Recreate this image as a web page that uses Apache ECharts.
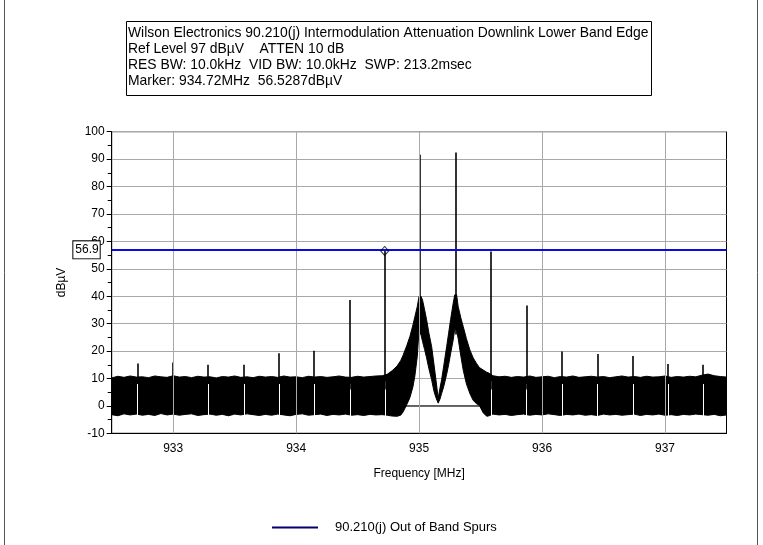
<!DOCTYPE html>
<html>
<head>
<meta charset="utf-8">
<script src="https://cdn.jsdelivr.net/npm/echarts@6/dist/echarts.min.js"></script>
<style>html,body{margin:0;padding:0;background:#fff}#c{width:763px;height:545px}</style>
</head>
<body>
<div id="c"></div>
<script>
// ---- data ----
var titleLines = [
  'Wilson Electronics 90.210(j) Intermodulation Attenuation Downlink Lower Band Edge',
  'Ref Level 97 dB\u00b5V    ATTEN 10 dB',
  'RES BW: 10.0kHz  VID BW: 10.0kHz  SWP: 213.2msec',
  'Marker: 934.72MHz  56.5287dB\u00b5V'
];
var seriesName = '90.210(j) Out of Band Spurs';
var xTicks = [933, 934, 935, 936, 937];

// spectrum envelope (trace is drawn as a dense band between these limits)
var bandFreq = [932.50,932.55,932.60,932.65,932.70,932.75,932.80,932.85,932.90,932.95,
  933.00,933.05,933.10,933.15,933.20,933.25,933.30,933.35,933.40,933.45,
  933.50,933.55,933.60,933.65,933.70,933.75,933.80,933.85,933.90,933.95,
  934.00,934.05,934.10,934.15,934.20,934.25,934.30,934.35,934.40,934.45,
  934.50,934.55,934.60,934.65,934.70,934.74,934.78,934.82,934.85,934.87,
  934.90,934.925,934.95,934.966,934.985,935.00,935.015,935.028,935.045,935.061,
  935.08,935.102,935.12,935.137,935.155,935.17,935.183,935.20,935.224,935.24,
  935.256,935.277,935.29,935.305,935.318,935.34,935.359,935.385,935.413,935.44,
  935.467,935.49,935.521,935.55,935.57,935.60,935.65,935.70,935.75,935.80,
  935.85,935.90,935.95,936.00,936.05,936.10,936.15,936.20,936.25,936.30,
  936.35,936.40,936.45,936.50,936.55,936.60,936.65,936.70,936.75,936.80,
  936.85,936.90,936.95,937.00,937.05,937.10,937.15,937.20,937.25,937.30,
  937.35,937.40,937.45,937.50];
var bandTop = [10.2,10.8,10.4,10.9,10.5,10.6,10.3,10.9,10.6,10.4,
  11.0,10.5,10.7,10.3,10.8,10.5,10.6,10.2,10.7,10.5,
  10.9,10.4,10.6,10.3,10.8,10.5,10.7,10.4,10.9,10.5,
  10.6,10.3,10.8,10.5,10.7,10.4,10.6,10.9,10.5,10.4,
  10.8,10.5,10.7,10.9,11.0,11.5,12.8,14.5,16.5,18.5,
  22.0,25.3,29.5,32.6,36.2,40.0,40.0,38.6,35.0,31.4,
  26.5,21.6,15.5,9.5,2.8,6.5,9.5,14.5,21.6,26.5,
  31.4,37.4,40.5,40.5,36.2,32.0,28.9,24.5,20.4,17.5,
  15.5,14.0,13.1,12.3,11.9,11.0,10.6,10.8,10.4,10.7,
  10.5,10.9,10.4,10.6,10.8,10.3,10.7,10.5,10.9,10.4,
  10.6,10.8,10.5,10.7,10.3,10.6,10.9,10.5,10.7,10.4,
  10.8,10.5,10.6,10.9,10.4,10.7,10.5,10.8,10.6,11.2,
  11.6,11.0,10.7,10.5];
var bandBottom = [-3.2,-3.6,-2.9,-3.3,-3.0,-3.4,-3.1,-3.5,-2.8,-3.3,
  -3.0,-3.4,-3.1,-2.9,-3.5,-3.2,-3.0,-3.4,-3.1,-3.6,
  -3.0,-3.3,-2.9,-3.2,-3.5,-3.1,-3.4,-3.0,-3.3,-3.6,
  -3.1,-2.9,-3.4,-3.2,-3.0,-3.5,-3.1,-3.3,-3.0,-3.4,
  -3.2,-3.5,-3.1,-3.3,-3.2,-3.4,-3.7,-3.8,-3.4,-2.2,
  0.5,3.0,7.0,11.0,18.0,28.0,26.0,23.5,20.5,17.5,
  13.5,9.5,5.5,3.0,1.0,2.5,4.5,7.0,11.5,15.0,
  19.0,24.0,28.0,27.5,24.5,18.0,13.0,8.0,4.5,2.0,
  0.8,0.2,-2.5,-3.8,-3.6,-3.0,-3.3,-3.1,-3.5,-3.2,
  -3.0,-3.4,-3.1,-3.3,-2.9,-3.2,-3.5,-3.1,-3.3,-3.0,
  -3.4,-3.2,-3.5,-3.0,-3.3,-3.1,-3.4,-3.2,-3.0,-3.5,
  -3.1,-3.3,-3.0,-3.4,-3.2,-3.5,-3.1,-3.3,-3.0,-3.2,
  -3.4,-3.1,-3.6,-3.3];

// discrete spurs / carriers
var spurFreq  = [932.71,933.00,933.285,933.575,933.86,934.147,934.437,934.722,935.006,935.297,935.586,935.874,936.163,936.451,936.741,937.025,937.31];
var spurPeak  = [15.5,15.8,15.0,15.0,19.2,20.1,38.6,56.5,91.6,92.4,56.3,36.6,19.8,18.9,18.2,15.3,15.0];
var spurFloor = [8,8,8,8,8,8,6,6,26,26,6,6,8,8,8,8,8];
var spurGap   = [8,8,8,8,8,8,8,9,null,null,9,8,8,8,8,8,8];

var baselineFreq = [934.87, 935.52];
var baselineLevel = [0, 0];

var refLevel = 56.9;
var markerFreq = 934.72;
var markerLevel = 56.5287;

// ---- chart ----
var FONT = 'Liberation Sans';
var bandData = bandFreq.map(function (f, i) { return [f, bandTop[i], bandBottom[i]]; });
var spikeLines = spurFreq.map(function (f, i) { return { coords: [[f, spurFloor[i]], [f, spurPeak[i]]] }; });
var gapLines = [];
spurFreq.forEach(function (f, i) {
  if (spurGap[i] !== null) gapLines.push({ coords: [[f, -4.2], [f, spurGap[i]]] });
});

// whole band as one polygon: upper edge forward, lower edge backward
function renderBand(params, api) {
  if (params.dataIndexInside !== 0) return null;
  var n = params.dataInsideLength;
  var pts = [];
  for (var i = 0; i < n; i++) pts.push(api.coord([api.value(0, i), api.value(1, i)]));
  for (var j = n - 1; j >= 0; j--) pts.push(api.coord([api.value(0, j), api.value(2, j)]));
  return {
    type: 'polygon',
    shape: { points: pts },
    style: { fill: '#000', stroke: '#000', lineWidth: 1 }
  };
}

var chart = echarts.init(document.getElementById('c'), null, { renderer: 'canvas' });
chart.setOption({
  animation: false,
  backgroundColor: '#fff',
  title: {
    text: titleLines.join('\n'),
    left: 126, top: 21,
    borderColor: '#000', borderWidth: 1,
    padding: [4, 3, 7, 2],
    textStyle: { fontFamily: FONT, fontSize: 13.9, fontWeight: 'normal', color: '#000', lineHeight: 16 }
  },
  legend: {
    left: 272, top: 521, padding: 0,
    data: [{ name: seriesName, icon: 'rect', itemStyle: { color: '#000070' } }],
    itemWidth: 46, itemHeight: 2,
    textStyle: { fontFamily: FONT, fontSize: 13, color: '#000', padding: [0, 0, 0, 12] }
  },
  grid: { left: 111.7, right: 36.5, top: 131.7, bottom: 111.7, show: true, borderColor: '#000', borderWidth: 1, containLabel: false },
  xAxis: {
    type: 'value', min: 932.5, max: 937.5, interval: 0.5,
    name: 'Frequency [MHz]', nameLocation: 'middle', nameGap: 34,
    nameTextStyle: { fontFamily: FONT, fontSize: 12, color: '#000' },
    axisLine: { onZero: false, lineStyle: { color: '#000' } },
    axisTick: { show: false },
    axisLabel: {
      fontFamily: FONT, fontSize: 12, color: '#000', margin: 9,
      showMinLabel: false, showMaxLabel: false,
      formatter: function (v) { return xTicks.indexOf(Math.round(v * 100) / 100) >= 0 ? String(Math.round(v)) : ''; }
    },
    splitLine: { show: false }
  },
  yAxis: {
    type: 'value', min: -10, max: 100, interval: 10,
    name: 'dB\u00b5V', nameLocation: 'middle', nameGap: 44,
    nameTextStyle: { fontFamily: FONT, fontSize: 12, color: '#000' },
    axisLine: { show: true, onZero: false, lineStyle: { color: '#000' } },
    axisTick: { show: true, length: 5, lineStyle: { color: '#000' } },
    minorTick: { show: true, splitNumber: 2, length: 4, lineStyle: { color: '#000' } },
    axisLabel: { fontFamily: FONT, fontSize: 12, color: '#000', margin: 7 },
    splitLine: { show: true, lineStyle: { color: '#a8a8a8', width: 1 } }
  },
  series: [
    {
      name: 'baseline', type: 'line', data: baselineFreq.map(function (f, i) { return [f, baselineLevel[i]]; }),
      symbol: 'none', lineStyle: { color: '#000', width: 1 }, z: 1, silent: true,
      markLine: {
        symbol: 'none', silent: true, label: { show: false },
        lineStyle: { color: '#a8a8a8', width: 1, type: 'solid' },
        data: xTicks.map(function (v) { return { xAxis: v }; })
      }
    },
    {
      name: seriesName, type: 'custom', renderItem: renderBand, data: bandData,
      encode: { x: 0, y: [1, 2] }, clip: true, z: 2, silent: true,
      itemStyle: { color: '#000' }
    },
    {
      name: 'gaps', type: 'lines', coordinateSystem: 'cartesian2d', data: gapLines,
      lineStyle: { color: '#fff', width: 1, opacity: 1 }, z: 3, silent: true
    },
    {
      name: 'spurs', type: 'lines', coordinateSystem: 'cartesian2d', data: spikeLines,
      lineStyle: { color: '#000', width: 1.6, opacity: 1 }, z: 4, silent: true
    },
    {
      name: 'ref', type: 'line', data: [], z: 5, silent: true,
      markLine: {
        symbol: 'none', silent: true,
        lineStyle: { color: '#0a0ae6', width: 2, type: 'solid' },
        label: {
          show: true, position: 'start', distance: 12, formatter: String(refLevel),
          fontFamily: FONT, fontSize: 12, color: '#000',
          backgroundColor: '#fff', borderColor: '#000', borderWidth: 1, padding: [3, 1, 2, 2]
        },
        data: [{ yAxis: refLevel }]
      }
    },
    {
      name: 'marker', type: 'scatter', data: [[markerFreq, markerLevel]],
      symbol: 'diamond', symbolSize: [8, 9], z: 6, silent: true,
      itemStyle: { color: 'rgba(255,255,255,0)', borderColor: '#000', borderWidth: 1 }
    }
  ],
  graphic: [
    { type: 'line', shape: { x1: 4.5, y1: 0, x2: 4.5, y2: 545 }, style: { stroke: '#555', lineWidth: 1 }, silent: true },
    { type: 'line', shape: { x1: 757.5, y1: 0, x2: 757.5, y2: 545 }, style: { stroke: '#555', lineWidth: 1 }, silent: true }
  ]
});
</script>
</body>
</html>
